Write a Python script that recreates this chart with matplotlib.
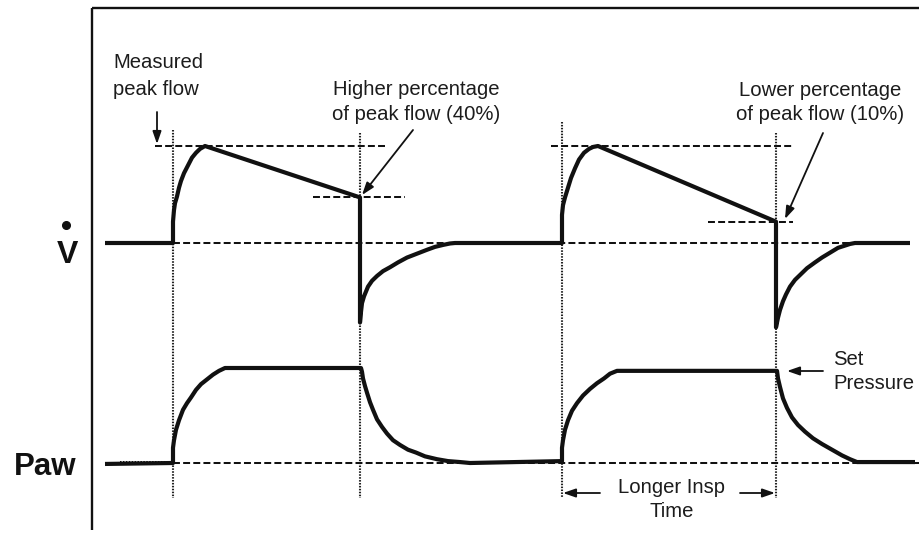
import matplotlib
matplotlib.use("Agg")
import matplotlib.pyplot as plt

plt.rcParams['font.family'] = ['Liberation Sans', 'DejaVu Sans']
plt.rcParams['lines.scale_dashes'] = False

# ---------------- data (time in chart units, flow in % of peak, pressure in % of set) ----
flow_t = [105, 173, 173, 174, 175, 177, 179, 181, 184, 188, 192, 196, 200, 205,
          360, 360, 361, 362, 364, 368, 372, 377, 383, 390, 398, 407, 417, 427, 435, 443, 450, 455,
          562, 562, 563, 565, 568, 571, 575, 579, 584, 589, 593, 598,
          776, 776, 778, 780, 783, 786, 790, 795, 800, 807, 815, 822, 830, 838, 844, 850, 855, 910]
flow_v = [0, 0, 22, 34, 41, 48, 57, 64, 72, 80, 88, 93, 97, 100,
          47, -82, -71, -62, -55, -45, -39, -34, -29, -25, -20, -15, -11, -7, -4, -2, -0.5, 0,
          0, 29, 39, 47, 57, 67, 77, 86, 93, 97, 99, 100,
          22, -87, -77, -69, -60, -53, -45, -38, -33, -26, -20, -15, -10, -5, -3, -1, 0, 0]

paw_t = [105, 173, 173, 174, 176, 179, 183, 187, 191, 196, 201, 207, 213, 219, 225,
         360, 361, 362, 363, 365, 367, 370, 373, 377, 382, 387, 393, 400, 408, 416, 425, 437, 448, 460, 470,
         562, 562, 563, 565, 568, 572, 577, 583, 590, 597, 604, 610, 617,
         776, 777, 778, 780, 783, 787, 792, 798, 805, 813, 822, 832, 842, 850, 857, 915]
paw_v = [-1, 0, 16, 24, 35, 45, 56, 63, 69, 77, 83, 88, 93, 97, 100,
         100, 100, 96, 89, 81, 74, 64, 56, 46, 38, 31, 24, 19, 14, 11, 7, 4, 2, 1, 0,
         2, 16, 24, 35, 45, 55, 63, 71, 78, 84, 89, 94, 97,
         97, 97, 89, 80, 68, 58, 48, 40, 33, 26, 20, 14, 8, 4, 1, 1]

breath_start = [173, 562]          # start of inspiration
breath_end = [360, 776]            # cycling point
peak_flow = [100, 100]             # measured peak flow (%)
cycle_flow = [47, 22]              # flow at cycling (%)

# ---------------- figure ----------------
W, H = 920, 533
fig = plt.figure(figsize=(W / 100, H / 100), dpi=100)

ax = fig.add_axes([0, 0, 1, 1])          # annotation layer in pixel units
ax.set_xlim(0, W)
ax.set_ylim(H, 0)
ax.axis('off')

# flow axes: flow 0 at y=243 px, 100 at y=146 px
f0, f100 = 243, 146
fs = (f0 - f100) / 100.0
axf = fig.add_axes([0, 0, 1, 1])
axf.set_xlim(0, W)
axf.set_ylim((f0 - H) / fs, f0 / fs)
axf.axis('off')
axf.patch.set_alpha(0)

# pressure axes: 0 at y=463 px, 100 at y=368 px
p0, p100 = 463, 368
ps = (p0 - p100) / 100.0
axp = fig.add_axes([0, 0, 1, 1])
axp.set_xlim(0, W)
axp.set_ylim((p0 - H) / ps, p0 / ps)
axp.axis('off')
axp.patch.set_alpha(0)

ink = '#111111'
txt = '#1c1c1c'
dash = (0, (5.0, 2.3))
dot = (0, (1.1, 1.0))

# frame
ax.plot([92, 92], [8, 530], color=ink, lw=1.7, solid_capstyle='butt')
ax.plot([92, W], [8, 8], color=ink, lw=1.7, solid_capstyle='butt')

# reference lines
dlw = 1.45
axf.plot([173, 905], [0, 0], color=ink, lw=dlw, ls=dash)
axp.plot([173, W], [0, 0], color=ink, lw=dlw, ls=dash)
axp.plot([120, 173], [0.8, 0.8], color=ink, lw=dlw, ls=dot)

peak_x0 = [155, 551]
peak_x1 = [385, 793]
cyc_x0 = [313, 708]
cyc_x1 = [405, 793]
for i in range(2):
    axf.plot([peak_x0[i], peak_x1[i]], [peak_flow[i], peak_flow[i]], color=ink, lw=dlw, ls=dash)
    axf.plot([cyc_x0[i], cyc_x1[i]], [cycle_flow[i], cycle_flow[i]], color=ink, lw=dlw, ls=dash)

for x, yt in zip(breath_start + breath_end, [130, 122, 133, 133]):
    ax.plot([x, x], [yt, 498], color='#222222', lw=1.5, ls=dot)

# traces
axf.plot(flow_t, flow_v, color=ink, lw=3.0, solid_joinstyle='round', solid_capstyle='butt')
axp.plot(paw_t, paw_v, color=ink, lw=3.0, solid_joinstyle='round', solid_capstyle='butt')

# labels
ax.text(67, 263, 'V', fontsize=23, fontweight='bold', ha='center', va='baseline', color=ink)
ax.plot([66], [225], 'o', color=ink, markersize=5.5)
ax.text(45, 475, 'Paw', fontsize=22.5, fontweight='bold', ha='center', va='baseline', color=ink)

fsz = 14.6
def line(x, y, s, ha='left'):
    ax.text(x, y, s, fontsize=fsz, ha=ha, va='baseline', color=txt)

line(113, 68, 'Measured')
line(113, 95, 'peak flow')
line(416, 95, 'Higher percentage', ha='center')
line(416, 120, 'of peak flow (40%)', ha='center')
line(820, 96, 'Lower percentage', ha='center')
line(820, 120, 'of peak flow (10%)', ha='center')
line(833, 365, 'Set')
line(833, 389, 'Pressure')
line(672, 493, 'Longer Insp', ha='center')
line(672, 517, 'Time', ha='center')

ap = dict(arrowstyle='-|>,head_length=0.75,head_width=0.26', color=ink, lw=1.3,
          mutation_scale=10, shrinkA=0, shrinkB=0)
ax.annotate('', xy=(157, 144), xytext=(157, 112), arrowprops=ap)
ax.annotate('', xy=(362, 195), xytext=(413, 130), arrowprops=ap)
ax.annotate('', xy=(785, 219), xytext=(823, 133), arrowprops=ap)
ax.annotate('', xy=(787, 371), xytext=(823, 371), arrowprops=ap)
ax.annotate('', xy=(563, 493), xytext=(600, 493), arrowprops=ap)
ax.annotate('', xy=(775, 493), xytext=(740, 493), arrowprops=ap)

fig.savefig('out.png', dpi=100)
